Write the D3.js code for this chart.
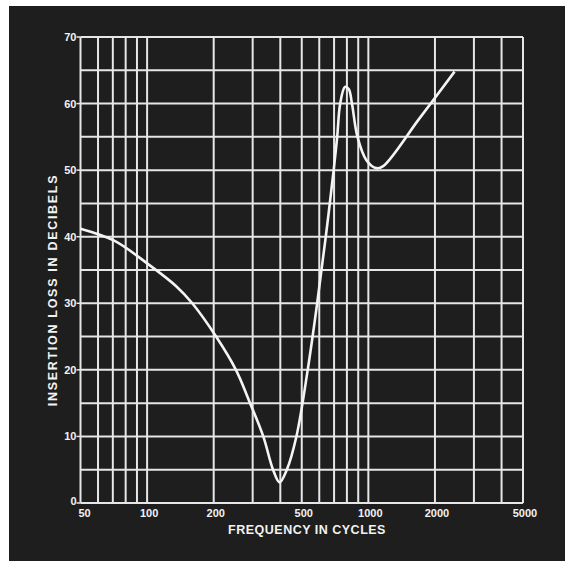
<!DOCTYPE html>
<html><head><meta charset="utf-8">
<script src="https://cdn.jsdelivr.net/npm/d3@7"></script>
<style>
html,body{margin:0;padding:0;background:#fff;}
svg{display:block;}
text{font-family:"Liberation Sans",Arial,sans-serif;font-weight:bold;fill:#f2f2f2;}
</style></head>
<body>
<svg id="chart" width="566" height="563"></svg>
<script>
// Curve data
const freq = [50, 71, 100, 135, 160, 205, 252, 292, 335, 371, 397, 428, 473, 532, 587, 642, 697, 723, 746, 784, 815, 843, 893, 980, 1087, 1167, 1696, 2453];
const loss = [41.2, 39.4, 36.0, 32.6, 30, 25, 20, 15, 10, 5, 3.1, 5, 10, 20, 30, 40, 50, 55, 60, 62.5, 62.2, 60, 55, 51.5, 50.3, 50.6, 57.7, 64.8];
const xGrid = [50,60,70,80,90,100,200,300,400,500,600,700,800,900,1000,2000,3000,4000,5000];
const xTickLabels = [50,100,200,500,1000,2000,5000];
const yTicks = [0,10,20,30,40,50,60,70];
const yGrid = [0,5,10,15,20,25,30,35,40,45,50,55,60,65,70];
const xTitle = "FREQUENCY IN CYCLES";
const yTitle = "INSERTION LOSS IN DECIBELS";

const svg = d3.select("#chart");
svg.append("rect").attr("x",9).attr("y",6).attr("width",556).attr("height",555).attr("fill","#1e1e1e");

const L=80.5, R=523, T=37, B=503;
const x = d3.scaleLog().domain([50,5000]).range([L,R]);
const y = d3.scaleLinear().domain([0,70]).range([B,T]);
const gridCol = "#e6e6e6";

const g = svg.append("g");
g.selectAll("line.v").data(xGrid).enter().append("line")
  .attr("x1",d=>x(d)).attr("x2",d=>x(d)).attr("y1",T).attr("y2",B)
  .attr("stroke",gridCol).attr("stroke-width",2);
g.selectAll("line.h").data(yGrid).enter().append("line")
  .attr("x1",L).attr("x2",R).attr("y1",d=>y(d)).attr("y2",d=>y(d))
  .attr("stroke",gridCol).attr("stroke-width",2);
g.selectAll("line.t").data(yTicks).enter().append("line")
  .attr("x1",L-4).attr("x2",L).attr("y1",d=>y(d)).attr("y2",d=>y(d))
  .attr("stroke",gridCol).attr("stroke-width",1.5);

// curve
const pts = freq.map((f,i)=>[f,loss[i]]);
const line = d3.line().x(d=>x(d[0])).y(d=>y(d[1])).curve(d3.curveCatmullRom.alpha(0.5));
svg.append("path").attr("d",line(pts)).attr("fill","none").attr("stroke","#f4f4f4").attr("stroke-width",2.6);

// labels
svg.selectAll("text.yl").data(yTicks).enter().append("text")
  .attr("x",L-4).attr("y",d=>y(d)+ (d===0?2:4)).attr("text-anchor","end")
  .attr("font-size",11).text(d=>d);
svg.selectAll("text.xl").data(xTickLabels).enter().append("text")
  .attr("x",d=>x(d)+ (d===50?4:2)).attr("y",517).attr("text-anchor","middle")
  .attr("font-size",11).text(d=>d);
svg.append("text").attr("x",307).attr("y",534).attr("text-anchor","middle")
  .attr("font-size",12.5).attr("letter-spacing",0.5).text(xTitle);
svg.append("text").attr("transform","translate(57,290) rotate(-90)").attr("text-anchor","middle")
  .attr("font-size",12.5).attr("letter-spacing",1.7).text(yTitle);
</script>
</body></html>
